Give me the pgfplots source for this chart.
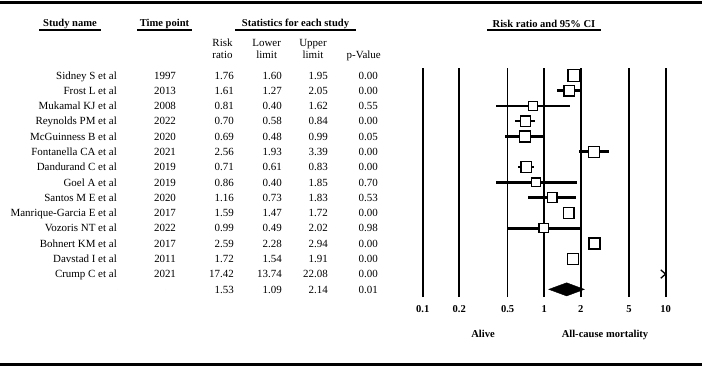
\documentclass[border=0pt]{standalone}
\usepackage{fontspec}
\setmainfont{Liberation Serif}
\usepackage{pgfplots}
\usepackage{pgfplotstable}
\pgfplotsset{compat=1.18}
\newcommand{\datafont}{\fontsize{11}{13}\selectfont}
\newcommand{\headfont}{\fontsize{10.6}{12}\selectfont\bfseries}
\pgfdeclareplotmark{chev}{%
  \pgfpathmoveto{\pgfpoint{-2.4bp}{4.2bp}}%
  \pgfpathlineto{\pgfpoint{2.4bp}{0bp}}%
  \pgfpathlineto{\pgfpoint{-2.4bp}{-4.2bp}}%
  \pgfusepathqstroke}

\pgfplotstableread[col sep=comma]{
row,name,year,rr,lo,hi,p,sz
0,Sidney S et al,1997,1.76,1.60,1.95,0.00,6.0
1,Frost L et al,2013,1.61,1.27,2.05,0.00,5.4
2,Mukamal KJ et al,2008,0.81,0.40,1.62,0.55,4.8
3,Reynolds PM et al,2022,0.70,0.58,0.84,0.00,5.1
4,McGuinness B et al,2020,0.69,0.48,0.99,0.05,5.5
5,Fontanella CA et al,2021,2.56,1.93,3.39,0.00,5.4
6,Dandurand C et al,2019,0.71,0.61,0.83,0.00,5.2
7,Goel A et al,2019,0.86,0.40,1.85,0.70,4.4
8,Santos M E et al,2020,1.16,0.73,1.83,0.53,4.9
9,Manrique-Garcia E et al,2017,1.59,1.47,1.72,0.00,5.4
10,Vozoris NT et al,2022,0.99,0.49,2.02,0.98,4.7
11,Bohnert KM et al,2017,2.59,2.28,2.94,0.00,5.5
12,Davstad I et al,2011,1.72,1.54,1.91,0.00,5.4
13,Crump C et al,2021,17.42,13.74,22.08,0.00,0
14,{},{},1.53,1.09,2.14,0.01,0
}\data

\begin{document}
\begin{tikzpicture}[x=1bp,y=1bp]
\useasboundingbox (0,0) rectangle (702,367);
% rules
\draw[line width=3.2bp] (0,364.5) -- (702,364.5);
\draw[line width=3.2bp] (0,2.5) -- (702,2.5);
% headers
\node[font=\headfont] at (70,343.5) {Study name};
\node[font=\headfont] at (164.5,343.5) {Time point};
\node[font=\headfont] at (295.5,343.5) {Statistics for each study};
\node[font=\headfont] at (544,343.5) {Risk ratio and 95\% CI};
\draw[line width=1.3bp] (39,337) -- (101,337);
\draw[line width=1.3bp] (137,337) -- (192,337);
\draw[line width=1.3bp] (235,337) -- (356,337);
\draw[line width=1.3bp] (487,337) -- (601,337);
% sub headers
\node[font=\datafont, anchor=base] at (222.5,320.5) {Risk};
\node[font=\datafont, anchor=base] at (222.5,308.5) {ratio};
\node[font=\datafont, anchor=base] at (266.7,320.5) {Lower};
\node[font=\datafont, anchor=base] at (266.7,308.5) {limit};
\node[font=\datafont, anchor=base] at (313,320.5) {Upper};
\node[font=\datafont, anchor=base] at (313,308.5) {limit};
\node[font=\datafont, anchor=base] at (363.7,308.5) {p-Value};
% bottom labels
\node[font=\headfont, anchor=base] at (483,29.5) {Alive};
\node[font=\headfont, anchor=base] at (605,29.5) {All-cause mortality};

% text columns
\begin{axis}[at={(0bp,70bp)}, anchor=south west, scale only axis,
  width=702bp, height=229bp, xmin=0, xmax=702, ymin=-14.5, ymax=0.478,
  hide axis, clip=false,
  every axis plot/.append style={only marks, mark=*, mark size=0pt,
    mark options={draw=none, fill=none}, nodes near coords,
    point meta=explicit symbolic},
  every node near coord/.append style={font=\datafont, inner sep=0pt, yshift=-3.7bp}]
\addplot[every node near coord/.append style={anchor=base east}]
  table[x expr=117, y expr=-\thisrow{row}, meta=name] {\data};
\addplot[every node near coord/.append style={anchor=base}]
  table[x expr=165, y expr=-\thisrow{row}, meta=year] {\data};
\addplot[every node near coord/.append style={anchor=base east}]
  table[x expr=234, y expr=-\thisrow{row}, meta=rr] {\data};
\addplot[every node near coord/.append style={anchor=base east}]
  table[x expr=282, y expr=-\thisrow{row}, meta=lo] {\data};
\addplot[every node near coord/.append style={anchor=base east}]
  table[x expr=328, y expr=-\thisrow{row}, meta=hi] {\data};
\addplot[every node near coord/.append style={anchor=base east}]
  table[x expr=378, y expr=-\thisrow{row}, meta=p] {\data};
\end{axis}

% forest plot
\begin{axis}[at={(422.7bp,70bp)}, anchor=south west, scale only axis,
  width=243bp, height=229bp, xmode=log, log basis x=10,
  xmin=0.1, xmax=10, ymin=-14.5, ymax=0.478,
  xtick={0.1,0.2,0.5,1,2,5,10}, xticklabels={0.1,0.2,0.5,1,2,5,10},
  ytick=\empty, xmajorgrids, major grid style={black, line width=1.6bp},
  axis line style={draw=none}, major tick length=0pt,
  xticklabel style={font=\headfont, anchor=base, yshift=-15.7bp},
  /pgf/number format/assume math mode=true, clip=false]
\addplot[draw=none, mark=none, skip coords between index={13}{15},
  error bars/.cd, x dir=both, x explicit, error mark=none,
  error bar style={line width=2.6bp, black, solid}]
  table[x=rr, y expr=-\thisrow{row},
    x error plus expr=\thisrow{hi}-\thisrow{rr},
    x error minus expr=\thisrow{rr}-\thisrow{lo}] {\data};
\addplot[scatter, only marks, mark=square*,
  scatter/use mapped color={draw=black, fill=white},
  mark options={line width=1.2bp},
  visualization depends on={\thisrow{sz}\as\sz},
  scatter/@pre marker code/.append style={/tikz/mark size=\sz},
  skip coords between index={13}{15}]
  table[x=rr, y expr=-\thisrow{row}] {\data};
\addplot[fill=black, draw=black] coordinates
  {(1.09,-14) (1.53,-13.57) (2.14,-14) (1.53,-14.43)} -- cycle;
\addplot[only marks, mark=chev, mark options={line width=1.3bp}]
  coordinates {(9.53,-13)};
\end{axis}
\end{tikzpicture}
\end{document}
